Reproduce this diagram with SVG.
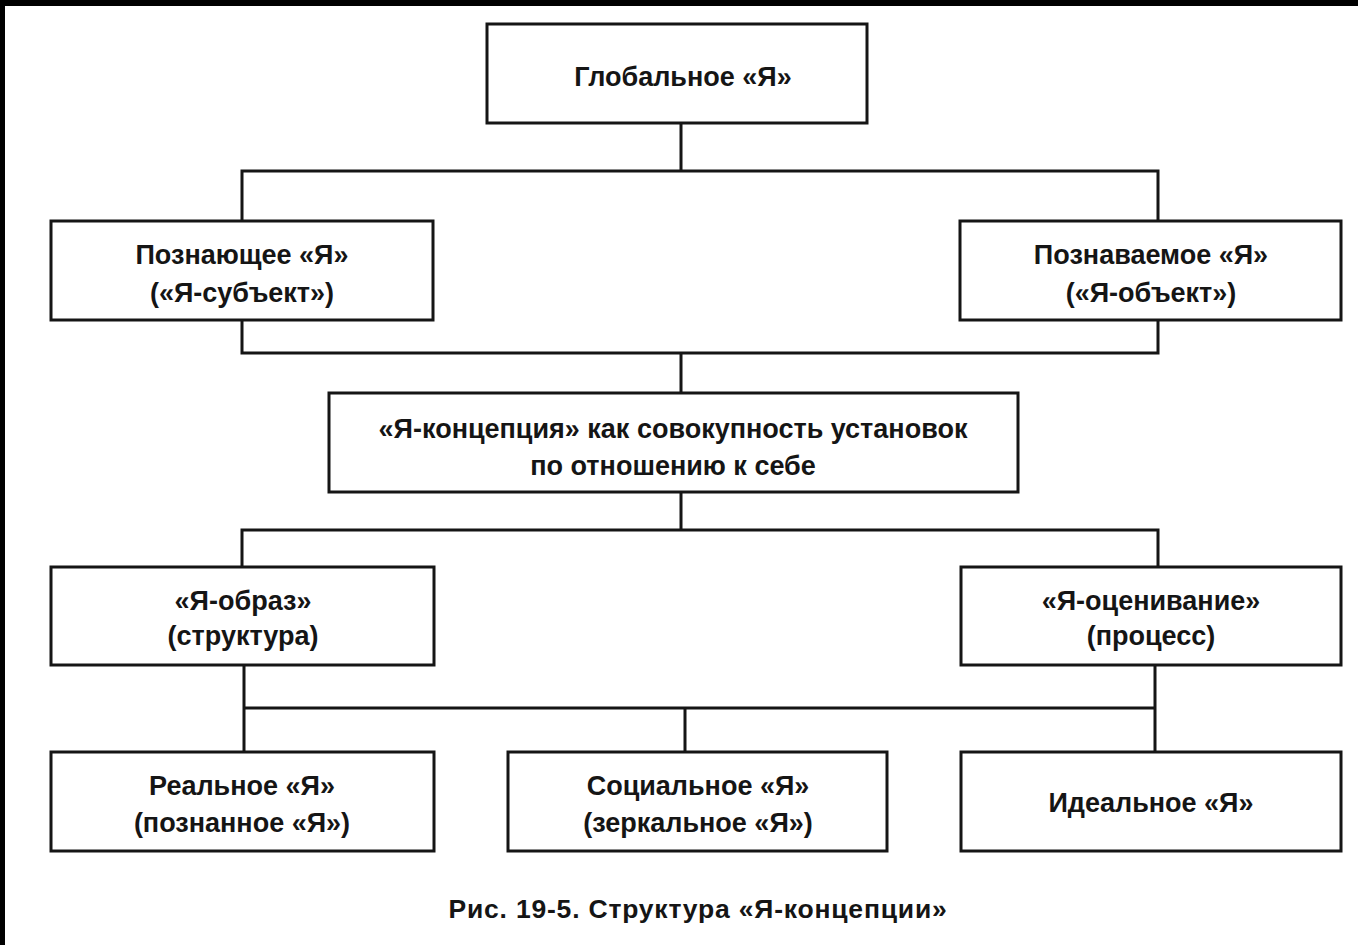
<svg xmlns="http://www.w3.org/2000/svg" width="1358" height="945" viewBox="0 0 1358 945">
<style>
.box{fill:#fff;stroke:#151515;stroke-width:3}
.con{fill:none;stroke:#151515;stroke-width:3}
text{font-family:"Liberation Sans",Arial,sans-serif;font-weight:bold;font-size:27px;fill:#151515;text-anchor:middle}
.cap{font-size:26.5px;letter-spacing:0.8px}
</style>
<rect x="0" y="0" width="1358" height="945" fill="#fff"/>
<rect x="0" y="0" width="1358" height="6" fill="#000"/>
<rect x="0" y="0" width="5" height="945" fill="#000"/>
<g id="connectors">
<path class="con" d="M681 123V171M242 221V171H1158V221"/>
<path class="con" d="M242 320V353H1158V320M681 353V393"/>
<path class="con" d="M681 492V530M242 567V530H1158V567"/>
<path class="con" d="M244 665V708H1155V665M244 708V752M685 708V752M1155 708V752"/>
</g>
<g id="n-global"><rect class="box" x="487" y="24" width="380" height="99"/><text x="683" y="86">Глобальное «Я»</text></g>
<g id="n-subject"><rect class="box" x="51" y="221" width="382" height="99"/><text x="242" y="264">Познающее «Я»</text><text x="242" y="302">(«Я-субъект»)</text></g>
<g id="n-object"><rect class="box" x="960" y="221" width="381" height="99"/><text x="1151" y="264">Познаваемое «Я»</text><text x="1151" y="302">(«Я-объект»)</text></g>
<g id="n-concept"><rect class="box" x="329" y="393" width="689" height="99"/><text x="673" y="438">«Я-концепция» как совокупность установок</text><text x="673" y="475">по отношению к себе</text></g>
<g id="n-image"><rect class="box" x="51" y="567" width="383" height="98"/><text x="243" y="610">«Я-образ»</text><text x="243" y="645">(структура)</text></g>
<g id="n-eval"><rect class="box" x="961" y="567" width="380" height="98"/><text x="1151" y="610">«Я-оценивание»</text><text x="1151" y="645">(процесс)</text></g>
<g id="n-real"><rect class="box" x="51" y="752" width="383" height="99"/><text x="242" y="795">Реальное «Я»</text><text x="242" y="832">(познанное «Я»)</text></g>
<g id="n-social"><rect class="box" x="508" y="752" width="379" height="99"/><text x="698" y="795">Социальное «Я»</text><text x="698" y="832">(зеркальное «Я»)</text></g>
<g id="n-ideal"><rect class="box" x="961" y="752" width="380" height="99"/><text x="1151" y="812">Идеальное «Я»</text></g>
<text class="cap" x="698" y="918">Рис. 19-5. Структура «Я-концепции»</text>
</svg>
